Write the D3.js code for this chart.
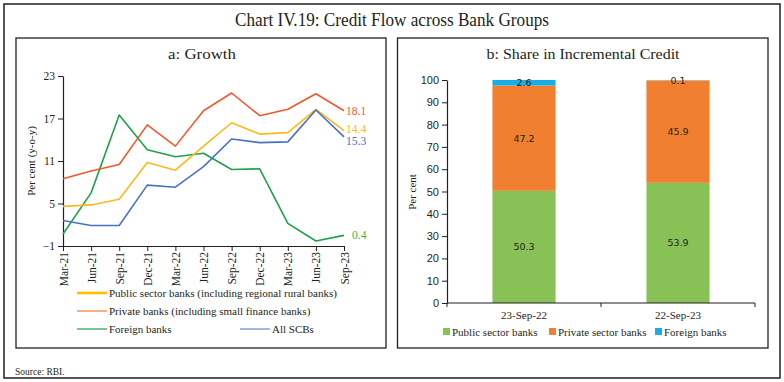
<!DOCTYPE html>
<html>
<head>
<meta charset="utf-8">
<script src="https://cdn.jsdelivr.net/npm/d3@7"></script>
<style>
  body { margin: 0; background: #fff; }
  svg { display: block; font-family: "Liberation Serif", "DejaVu Serif", serif; }
</style>
</head>
<body>
<script>
// panel a: growth (y-o-y, per cent)
const quarters = ["Mar-21", "Jun-21", "Sep-21", "Dec-21", "Mar-22", "Jun-22", "Sep-22", "Dec-22", "Mar-23", "Jun-23", "Sep-23"];
const psbGrowth = [4.6, 4.8, 5.6, 10.8, 9.7, 13.1, 16.4, 14.8, 15.0, 18.3, 15.3];
const pvtGrowth = [8.5, 9.6, 10.5, 16.1, 13.1, 18.1, 20.6, 17.4, 18.3, 20.5, 18.1];
const fbGrowth = [0.7, 6.5, 17.5, 12.6, 11.6, 12.1, 9.8, 9.9, 2.2, -0.3, 0.5];
const scbGrowth = [2.6, 1.9, 1.9, 7.6, 7.3, 10.2, 14.1, 13.6, 13.7, 18.2, 14.4];
const growthTicks = [-1, 5, 11, 17, 23];
const growthNames = ["Public sector banks (including regional rural banks)", "Private banks (including small finance banks)", "Foreign banks", "All SCBs"];
const endLabels = ["14.4", "18.1", "0.4", "15.3"]; // as printed on the chart

// panel b: share in incremental credit
const dates = ["23-Sep-22", "22-Sep-23"];
const psbShare = [50.3, 53.9];
const pvtShare = [47.2, 45.9];
const fbShare = [2.6, 0.1];
const shareTicks = [0, 10, 20, 30, 40, 50, 60, 70, 80, 90, 100];
const shareNames = ["Public sector banks", "Private sector banks", "Foreign banks"];

const ink = "#231f20";
const lineColors = ["#ffb81c", "#ef5a2c", "#1ba34a", "#4a72c4"];
const legendColors = ["#ffc000", "#ed7d31", "#1ba34a", "#5b8fd0"];
const labelColors = ["#ffb81c", "#ef5a2c", "#3cb44b", "#4a72c4"];
const barColors = ["#88c257", "#f07f2f", "#1aade4"];

const svg = d3.select("body").append("svg")
    .attr("width", 784)
    .attr("height", 382);

// frames
svg.append("rect").attr("x", 4).attr("y", 4).attr("width", 776).attr("height", 374)
    .attr("fill", "none").attr("stroke", ink).attr("stroke-width", 1.5);
svg.append("rect").attr("x", 16).attr("y", 38).attr("width", 370).attr("height", 310)
    .attr("fill", "none").attr("stroke", ink).attr("stroke-width", 1.3);
svg.append("rect").attr("x", 397.5).attr("y", 38).attr("width", 370.5).attr("height", 310)
    .attr("fill", "none").attr("stroke", ink).attr("stroke-width", 1.3);

// titles
svg.append("text").attr("x", 392).attr("y", 26).attr("text-anchor", "middle")
    .attr("font-size", 18).attr("fill", ink)
    .attr("textLength", 314).attr("lengthAdjust", "spacingAndGlyphs")
    .text("Chart IV.19: Credit Flow across Bank Groups");
svg.append("text").attr("x", 202).attr("y", 59).attr("text-anchor", "middle")
    .attr("font-size", 15).attr("fill", ink)
    .attr("textLength", 68).attr("lengthAdjust", "spacingAndGlyphs")
    .text("a:  Growth");
svg.append("text").attr("x", 583).attr("y", 59).attr("text-anchor", "middle")
    .attr("font-size", 15).attr("fill", ink)
    .attr("textLength", 193).attr("lengthAdjust", "spacingAndGlyphs")
    .text("b: Share in Incremental Credit");

svg.append("text").attr("x", 15).attr("y", 375)
    .attr("font-size", 9.5).attr("fill", ink)
    .text("Source: RBI.");

// ---------- panel a ----------
const x = d3.scalePoint().domain(quarters).range([63, 344]);
const y = d3.scaleLinear().domain([-1, 23]).range([246, 76]);

const gy = svg.append("g")
    .attr("transform", "translate(63,0)")
    .call(d3.axisLeft(y).tickValues(growthTicks).tickSize(5).tickSizeOuter(0));
const gx = svg.append("g")
    .attr("transform", "translate(0,246)")
    .call(d3.axisBottom(x).tickSize(5).tickSizeOuter(0));
gx.selectAll("text")
    .attr("transform", "rotate(-90)")
    .attr("text-anchor", "end")
    .attr("x", -6).attr("y", 0).attr("dy", "0.35em");
[gx, gy].forEach(g => {
    g.select(".domain").attr("stroke", ink).attr("stroke-width", 1.2);
    g.selectAll(".tick line").attr("stroke", ink);
    g.selectAll("text").attr("font-size", 11.5).attr("fill", ink)
        .attr("font-family", "Liberation Serif");
});

svg.append("text")
    .attr("transform", "translate(35,161) rotate(-90)")
    .attr("text-anchor", "middle").attr("font-size", 11).attr("fill", ink)
    .text("Per cent (y-o-y)");

const growthSeries = [psbGrowth, pvtGrowth, fbGrowth, scbGrowth];
const line = d3.line().x((d, i) => x(quarters[i])).y(d => y(d));
// draw foreign banks first so the others sit on top
[2, 0, 3, 1].forEach(k => {
    svg.append("path")
        .datum(growthSeries[k])
        .attr("d", line)
        .attr("fill", "none")
        .attr("stroke", lineColors[k])
        .attr("stroke-width", 1.6)
        .attr("stroke-linejoin", "round");
});

// end labels (offsets keep them clear of each other)
const endOffsets = [-2, 0, 0, 4];
growthSeries.forEach((s, k) => {
    svg.append("text")
        .attr("x", x(quarters[quarters.length - 1]) + (k === 2 ? 8 : 2))
        .attr("y", y(s[s.length - 1]) + endOffsets[k])
        .attr("dy", "0.35em")
        .attr("font-size", 11.5).attr("fill", labelColors[k])
        .text(endLabels[k]);
});

// legend a
const legA = [
    { k: 0, x: 77, y: 293, w: 2.6 },
    { k: 1, x: 77, y: 311, w: 1.2 },
    { k: 2, x: 77, y: 329, w: 1.2 },
    { k: 3, x: 240, y: 329, w: 1.2 }
];
legA.forEach(d => {
    svg.append("line")
        .attr("x1", d.x).attr("x2", d.x + 30)
        .attr("y1", d.y).attr("y2", d.y)
        .attr("stroke", legendColors[d.k]).attr("stroke-width", d.w);
    svg.append("text")
        .attr("x", d.x + 32).attr("y", d.y).attr("dy", "0.35em")
        .attr("font-size", 11).attr("fill", ink)
        .text(growthNames[d.k]);
});

// ---------- panel b ----------
const xb = d3.scaleBand().domain(dates).range([447, 755]).paddingInner(0.59).paddingOuter(0.295);
const yb = d3.scaleLinear().domain([0, 100]).range([303, 80]);

const rows = dates.map((d, i) => ({ date: d, psb: psbShare[i], pvt: pvtShare[i], fb: fbShare[i] }));
const stacked = d3.stack().keys(["psb", "pvt", "fb"])(rows);

stacked.forEach((layer, k) => {
    svg.append("g").selectAll("rect")
        .data(layer)
        .enter()
        .append("rect")
        .attr("x", d => xb(d.data.date))
        .attr("width", xb.bandwidth())
        .attr("y", d => yb(Math.min(d[1], 100)))
        .attr("height", d => yb(d[0]) - yb(Math.min(d[1], 100)))
        .attr("fill", barColors[k]);
});
stacked.forEach(layer => {
    svg.append("g").selectAll("text")
        .data(layer)
        .enter()
        .append("text")
        .attr("x", d => xb(d.data.date) + xb.bandwidth() / 2)
        .attr("y", d => yb((d[0] + Math.min(d[1], 100)) / 2))
        .attr("dy", "0.35em")
        .attr("text-anchor", "middle")
        .attr("font-family", "DejaVu Sans")
        .attr("font-size", 9.5).attr("fill", ink)
        .text(d => (d[1] - d[0]).toFixed(1));
});

const gyb = svg.append("g")
    .attr("transform", "translate(447,0)")
    .call(d3.axisLeft(yb).tickValues(shareTicks).tickSize(5).tickSizeOuter(0));
gyb.select(".domain").attr("stroke", ink).attr("stroke-width", 1.2);
gyb.selectAll(".tick line").attr("stroke", ink);
gyb.selectAll("text").attr("font-size", 11).attr("fill", ink);

// category axis with ticks on the band edges
const gxb = svg.append("g").attr("transform", "translate(0,303)");
gxb.append("line").attr("x1", 447).attr("x2", 755).attr("stroke", ink).attr("stroke-width", 1.2);
const edges = [xb.range()[0]].concat(dates.map(d => xb(d) + xb.bandwidth() + xb.step() * xb.paddingInner() / 2));
edges[edges.length - 1] = xb.range()[1];
gxb.selectAll(".edge").data(edges).enter().append("line")
    .attr("x1", d => d).attr("x2", d => d).attr("y1", 0).attr("y2", 4)
    .attr("stroke", ink);
gxb.selectAll(".lab").data(dates).enter().append("text")
    .attr("x", d => xb(d) + xb.bandwidth() / 2)
    .attr("y", 16)
    .attr("text-anchor", "middle")
    .attr("font-size", 11).attr("fill", ink)
    .text(d => d);

svg.append("text")
    .attr("transform", "translate(416,192) rotate(-90)")
    .attr("text-anchor", "middle").attr("font-size", 11).attr("fill", ink)
    .text("Per cent");

// legend b
const legBx = [443, 549, 655];
shareNames.forEach((n, k) => {
    svg.append("rect")
        .attr("x", legBx[k]).attr("y", 328).attr("width", 7).attr("height", 7)
        .attr("fill", barColors[k]);
    svg.append("text")
        .attr("x", legBx[k] + 9).attr("y", 332).attr("dy", "0.35em")
        .attr("font-size", 11).attr("fill", ink)
        .text(n);
});
</script>
</body>
</html>
